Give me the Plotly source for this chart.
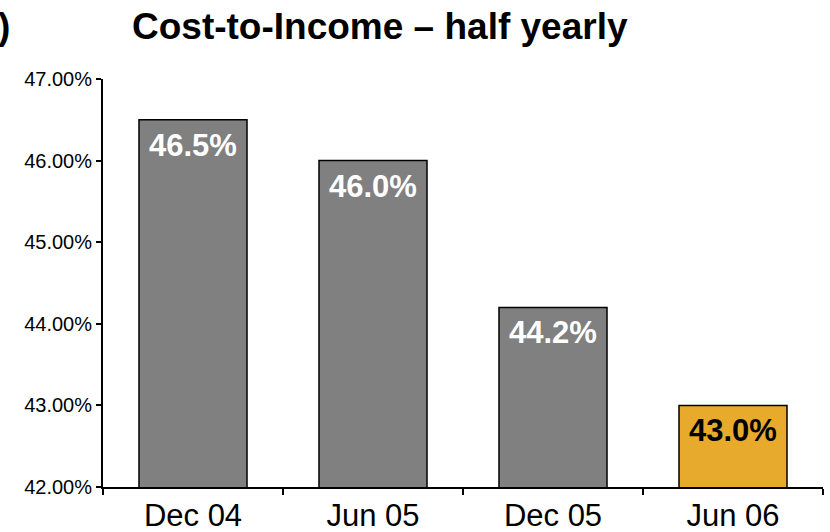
import plotly.graph_objects as go

periods = ["Dec 04", "Jun 05", "Dec 05", "Jun 06"]
cost_income = [46.5, 46.0, 44.2, 43.0]
bar_colors = ["#808080", "#808080", "#808080", "#E8AA2C"]
label_colors = ["white", "white", "white", "black"]
y_ticks = [42, 43, 44, 45, 46, 47]

L, R, T, B = 103, 7, 79, 45
W, H = 830, 532
pw, ph = W - L - R, H - T - B

fig = go.Figure(
    go.Bar(
        x=periods,
        y=cost_income,
        marker=dict(color=bar_colors, line=dict(color="black", width=1.5)),
        hoverinfo="x+y",
    )
)

# value labels just inside the top of each bar
for p, v, c in zip(periods, cost_income, label_colors):
    fig.add_annotation(
        x=p, y=v, xref="x", yref="y",
        text=f"<b>{v:.1f}%</b>",
        showarrow=False,
        xanchor="center", yanchor="top",
        yshift=-6,
        font=dict(size=31, color=c),
    )

fig.update_layout(
    width=W,
    height=H,
    margin=dict(l=L, r=R, t=T, b=B, autoexpand=False),
    plot_bgcolor="white",
    paper_bgcolor="white",
    bargap=0.4,
    showlegend=False,
    font=dict(family="Liberation Sans, Arial", color="black"),
)

fig.update_yaxes(
    range=[42, 47],
    tickvals=y_ticks,
    ticktext=[f"{v:.2f}%" for v in y_ticks],
    tickfont=dict(size=20),
    showgrid=False,
    zeroline=False,
    showline=True,
    linecolor="black",
    linewidth=2,
    ticks="outside",
    ticklen=5,
    tickwidth=2,
    tickcolor="black",
    automargin=False,
)

fig.update_xaxes(
    tickfont=dict(size=31),
    showgrid=False,
    showline=True,
    linecolor="black",
    linewidth=2,
    ticks="outside",
    tickson="boundaries",
    ticklen=6,
    tickwidth=2,
    tickcolor="black",
    automargin=False,
)

fig.add_annotation(
    text="<b>Cost-to-Income – half yearly</b>",
    xref="paper", yref="paper",
    x=(380 - L) / pw, y=(H - B - 26) / ph,
    xanchor="center", yanchor="middle",
    showarrow=False,
    font=dict(size=37, color="black"),
)
fig.add_annotation(
    text="<b>)</b>",
    xref="paper", yref="paper",
    x=(-4 - L) / pw, y=(H - B - 26) / ph,
    xanchor="left", yanchor="middle",
    showarrow=False,
    font=dict(size=37, color="black"),
)

fig.write_html("out.html")
